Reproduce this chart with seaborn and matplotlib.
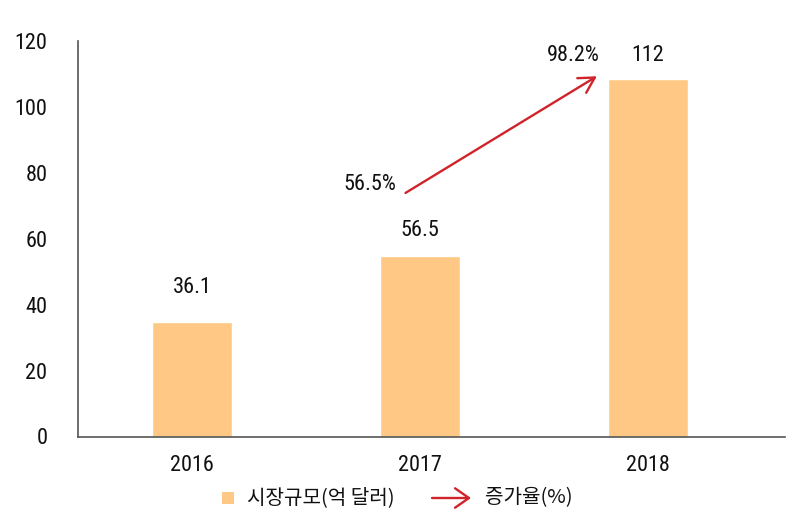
import matplotlib
matplotlib.use("Agg")
import matplotlib.pyplot as plt
import seaborn as sns
import pandas as pd
from matplotlib import font_manager

years = ["2016", "2017", "2018"]
bar_heights = [34.8, 54.8, 108.4]
value_labels = ["36.1", "56.5", "112"]
growth_labels = ["56.5%", "98.2%"]
yticks = [0, 20, 40, 60, 80, 100, 120]
legend_labels = ["시장규모(억 달러)", "증가율(%)"]

sns.set_theme(style="white")
names = {f.name for f in font_manager.fontManager.ttflist}
num_font = "Roboto"
for cand in ["Roboto Condensed", "Liberation Sans Narrow", "Roboto"]:
    if cand in names:
        num_font = cand
        break
condensed = num_font != "Roboto"
NS = 16 if condensed else 14.5
plt.rcParams["font.family"] = [num_font, "Noto Sans CJK KR", "DejaVu Sans"]

BAR = "#FFC985"
RED = "#D0232A"

fig = plt.figure(figsize=(7.99, 5.25), dpi=100)
ax = fig.add_axes([78/799, 1-436.5/525, (785-78)/799, (436.5-41)/525])

df = pd.DataFrame({"year": years, "size": bar_heights})
sns.barplot(data=df, x="year", y="size", color=BAR, width=0.35, saturation=1, ax=ax)

ax.set_xlim(-0.5, 2.6)
ax.set_ylim(0, 120)
ax.set_yticks(yticks)
ax.set_yticklabels([str(t) for t in yticks])
ax.set_xlabel("")
ax.set_ylabel("")
for s in ["top", "right"]:
    ax.spines[s].set_visible(False)
for s in ["left", "bottom"]:
    ax.spines[s].set_color("#555555")
    ax.spines[s].set_linewidth(1.2)
ax.tick_params(axis="y", length=0, pad=22, labelsize=NS, labelcolor="#111111")
ax.tick_params(axis="x", length=0, pad=13, labelsize=NS, labelcolor="#111111")

# value labels above bars (offsets in points)
offsets = [25, 18, 17]
for i, (h, lab) in enumerate(zip(bar_heights, value_labels)):
    ax.annotate(lab, xy=(i, h), xytext=(0, offsets[i]), textcoords="offset points",
                ha="center", va="center", fontsize=NS, color="#111111")

# growth arrow
ax.annotate("", xy=(1.775, 109.3), xytext=(0.936, 73.9),
            arrowprops=dict(arrowstyle="->,head_length=0.5,head_width=0.28", color=RED, lw=1.7,
                            mutation_scale=22, shrinkA=0, shrinkB=0))
ax.text(0.78, 76.5, growth_labels[0], ha="center", va="center", fontsize=NS, color="#111111")
ax.text(1.67, 115.5, growth_labels[1], ha="center", va="center", fontsize=NS, color="#111111")

# legend (manual)
ly = 1 - 498/525
fig.patches.append(plt.Rectangle((222/799, ly - 6/525), 12/799, 12/525, transform=fig.transFigure,
                                 facecolor=BAR, edgecolor="none"))
fig.text(247/799, ly, legend_labels[0], ha="left", va="center", fontsize=14.5,
         family=["Noto Sans CJK KR", "DejaVu Sans"], color="#111111")
fig.add_artist(matplotlib.patches.FancyArrowPatch((432/799, ly), (471/799, ly), transform=fig.transFigure,
               arrowstyle="->,head_length=0.5,head_width=0.35", color=RED, lw=1.7, mutation_scale=20,
               shrinkA=0, shrinkB=0))
fig.text(485/799, ly, legend_labels[1], ha="left", va="center", fontsize=14.5,
         family=["Noto Sans CJK KR", "DejaVu Sans"], color="#111111")

fig.savefig("out.png", dpi=100)
